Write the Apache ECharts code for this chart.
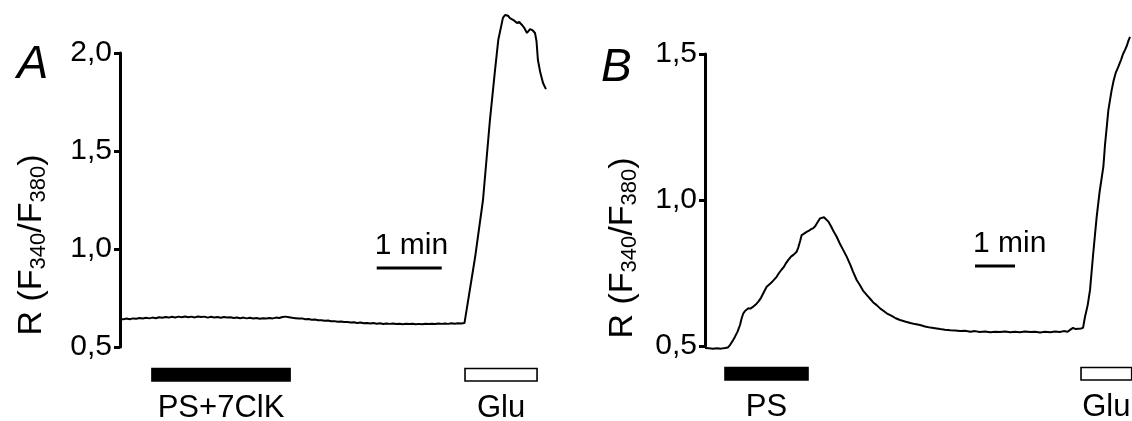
<!DOCTYPE html>
<html>
<head>
<meta charset="utf-8">
<script src="https://cdn.jsdelivr.net/npm/echarts@6/dist/echarts.min.js"></script>
<style>html,body{margin:0;padding:0;background:#fff}#c{width:1132px;height:421px}</style>
</head>
<body>
<div id="c"></div>
<script>
// ---- Panel A: time (s), ratio F340/F380 ----
const traceA = [
[0,0.643],[3,0.641],[6,0.645],[9,0.642],[12,0.646],[15,0.644],[18,0.648],[21,0.645],[24,0.649],[27,0.646],
[30,0.650],[33,0.647],[36,0.652],[39,0.649],[42,0.653],[45,0.650],[48,0.654],[51,0.651],[54,0.655],[57,0.652],
[60,0.656],[63,0.652],[66,0.655],[69,0.651],[72,0.656],[75,0.653],[78,0.655],[81,0.650],[84,0.654],[87,0.651],
[90,0.653],[93,0.649],[96,0.653],[99,0.650],[102,0.652],[105,0.648],[108,0.651],[111,0.647],[114,0.650],[117,0.646],
[120,0.649],[123,0.645],[126,0.648],[129,0.644],[132,0.647],[135,0.645],[138,0.648],[141,0.646],[144,0.650],[147,0.648],
[150,0.653],[153,0.655],[156,0.652],[159,0.649],[162,0.647],[165,0.645],[168,0.646],[171,0.642],[174,0.643],[177,0.639],
[180,0.640],[183,0.636],[186,0.637],[189,0.634],[192,0.635],[195,0.631],[198,0.632],[201,0.629],[204,0.630],[207,0.627],
[210,0.628],[213,0.625],[216,0.626],[219,0.623],[222,0.625],[225,0.621],[228,0.623],[231,0.620],[234,0.622],[237,0.619],
[240,0.621],[243,0.617],[246,0.620],[249,0.618],[252,0.620],[255,0.617],[258,0.619],[261,0.616],[264,0.619],[267,0.617],
[270,0.619],[273,0.616],[276,0.618],[279,0.616],[282,0.619],[285,0.617],[288,0.619],[291,0.617],[294,0.620],[297,0.618],
[300,0.620],[303,0.618],[306,0.621],[309,0.619],[312,0.621],[315,0.620],[318,0.622],
[319.4,0.628],[327.7,0.954],[335.1,1.25],[341.5,1.658],[346.2,1.913],[349.2,2.066],[353.5,2.179],[355.4,2.194],
[357,2.185],[358.2,2.19],[360,2.178],[361.8,2.184],[364,2.165],[366.5,2.153],[368.5,2.158],[371.1,2.143],[373,2.13],
[375.7,2.102],[378.5,2.122],[381,2.115],[383.1,2.102],[384.5,2.06],[385.8,1.964],[388,1.9],[390.5,1.847],[393.2,1.816]
];
// treatments: [start s, end s, filled (1) / open (0)]
const treatA = [[29.5, 157, 1], [318.5, 385, 0]];
const treatNamesA = ['PS+7ClK', 'Glu'];
const scaleA = [[237, 297, 0.903]];

// ---- Panel B ----
const traceB = [
[0,0.493],[6,0.492],[12,0.491],[18,0.492],[24,0.491],[30,0.493],[34.5,0.495],
[38,0.505],[42,0.52],[45,0.532],[49,0.55],[52.5,0.572],[55,0.595],[57.5,0.612],[60,0.62],[62,0.625],[65,0.629],
[68,0.628],[70,0.634],[72.5,0.635],[75,0.64],[77,0.644],[80,0.652],[84,0.665],[88,0.683],[92.5,0.703],[96,0.71],
[100,0.718],[104,0.728],[107.5,0.737],[111,0.75],[115,0.762],[118,0.77],[121,0.782],[125,0.795],[129,0.806],
[133,0.813],[137.5,0.823],[140,0.838],[143,0.862],[145,0.88],[148,0.884],[150,0.889],[152.5,0.891],[156,0.895],
[159,0.9],[162,0.903],[165,0.909],[167,0.915],[170,0.928],[172.5,0.937],[175,0.94],[178.5,0.941],[181,0.937],
[185,0.926],[189,0.91],[193,0.892],[197.5,0.874],[202,0.852],[207,0.83],[212.5,0.806],[218,0.778],[222,0.755],
[227.5,0.726],[232,0.71],[237,0.69],[242.5,0.675],[248,0.661],[252,0.65],[257.5,0.64],[263,0.628],[268,0.62],
[272.5,0.612],[280,0.603],[286,0.595],[292.5,0.589],[300,0.584],[308,0.579],[315,0.575],[322.5,0.572],[330,0.567],
[338,0.563],[345,0.561],[352.5,0.558],[360,0.556],[368,0.554],[375,0.553],[382.5,0.551],[390,0.552],[398,0.549],
[405,0.551],[412,0.548],[420,0.55],[428,0.547],[435,0.549],[442.5,0.548],[450,0.55],[458,0.547],[465,0.549],
[472,0.547],[480,0.55],[488,0.548],[495,0.549],[502.5,0.546],[510,0.549],[518,0.547],[525,0.55],[532,0.548],
[538,0.551],[544,0.549],[548,0.556],[552,0.562],[556,0.558],[560,0.559],[564,0.56],[567,0.562],
[570,0.6],[574,0.64],[577.5,0.692],[582,0.81],[587.5,0.943],[592,1.03],[597.5,1.114],[600,1.19],[603,1.26],
[605,1.308],[608,1.35],[610,1.377],[613,1.41],[616,1.435],[620,1.457],[624,1.48],[627,1.5],[630,1.514],
[633,1.53],[635,1.545],[637.5,1.559]
];
const treatB = [[30, 154.5, 1], [564, 640, 0]];
const treatNamesB = ['PS', 'Glu'];
const scaleB = [[405, 465, 0.774]];

const yTicksA = {min: 0.5, max: 2.0, interval: 0.5};
const yTicksB = {min: 0.5, max: 1.5, interval: 0.5};

const FONT = 'Liberation Sans';
const chart = echarts.init(document.getElementById('c'), null, {renderer: 'canvas'});

function treatRender(names, yMin) {
  return function (params, api) {
    const p0 = api.coord([api.value(0), yMin]);
    const p1 = api.coord([api.value(1), yMin]);
    const filled = api.value(2) === 1;
    const yb = p0[1];
    return {
      type: 'group',
      children: [
        {type: 'rect', shape: {x: p0[0], y: yb + 21.5, width: p1[0] - p0[0], height: 12.5},
         style: {fill: filled ? '#000' : '#fff', stroke: '#000', lineWidth: 1.6}},
        {type: 'text', style: {text: names[params.dataIndex], x: (p0[0] + p1[0]) / 2, y: yb + 61,
         align: 'center', verticalAlign: 'middle', fontSize: 31, fontFamily: FONT, fill: '#000'}}
      ]
    };
  };
}
function scaleRender(params, api) {
  const p0 = api.coord([api.value(0), api.value(2)]);
  const p1 = api.coord([api.value(1), api.value(2)]);
  return {
    type: 'group',
    children: [
      {type: 'line', shape: {x1: p0[0], y1: p0[1], x2: p1[0], y2: p1[1]}, style: {stroke: '#000', lineWidth: 2.8}},
      {type: 'text', style: {text: '1 min', x: p0[0] - 2, y: p0[1] - 22, align: 'left', verticalAlign: 'middle',
       fontSize: 30, fontFamily: FONT, fill: '#000'}}
    ]
  };
}

function yAxis(ticks, idx, gap, shift) {
  return {
    type: 'value', gridIndex: idx, min: ticks.min, max: ticks.max, interval: ticks.interval,
    axisLine: {show: true, lineStyle: {color: '#000', width: 3}},
    axisTick: {show: true, length: 6, lineStyle: {color: '#000', width: 3}},
    splitLine: {show: false},
    axisLabel: {margin: 8, fontSize: 30, fontFamily: FONT, color: '#000',
      formatter: v => v.toFixed(1).replace('.', ',')},
    name: '{m|R (F}{s|340}{m|/F}{s|380}{m|)}',
    nameLocation: 'middle', nameGap: gap, nameRotate: 90,
    nameTextStyle: {
      padding: [0, 2 * shift, 0, 0],
      rich: {
        m: {fontSize: 34, fontFamily: FONT, color: '#000', lineHeight: 36},
        s: {fontSize: 22, fontFamily: FONT, color: '#000', lineHeight: 14, verticalAlign: 'bottom'}
      }
    }
  };
}

const option = {
  animation: false,
  backgroundColor: '#fff',
  title: [
    {text: 'A', left: 12, top: 36, textStyle: {fontSize: 47, fontStyle: 'italic', fontWeight: 'normal', fontFamily: FONT, color: '#000'}},
    {text: 'B', left: 596, top: 40, textStyle: {fontSize: 46, fontStyle: 'italic', fontWeight: 'normal', fontFamily: FONT, color: '#000'}}
  ],
  grid: [
    {left: 120, top: 53, width: 433.3, height: 294, outerBoundsMode: 'none'},
    {left: 705, top: 54, width: 426.7, height: 292, outerBoundsMode: 'none'}
  ],
  xAxis: [
    {type: 'value', gridIndex: 0, min: 0, max: 400, show: false},
    {type: 'value', gridIndex: 1, min: 0, max: 640, show: false}
  ],
  yAxis: [yAxis(yTicksA, 0, 70, 45), yAxis(yTicksB, 1, 64, 48)],
  series: [
    {type: 'line', xAxisIndex: 0, yAxisIndex: 0, data: traceA, showSymbol: false, clip: false,
     lineStyle: {color: '#000', width: 2}},
    {type: 'line', xAxisIndex: 1, yAxisIndex: 1, data: traceB, showSymbol: false, clip: false,
     lineStyle: {color: '#000', width: 2}},
    {type: 'custom', xAxisIndex: 0, yAxisIndex: 0, data: treatA, renderItem: treatRender(treatNamesA, 0.5), clip: false,
     encode: {x: [0, 1], y: 2}},
    {type: 'custom', xAxisIndex: 1, yAxisIndex: 1, data: treatB, renderItem: treatRender(treatNamesB, 0.5), clip: false,
     encode: {x: [0, 1], y: 2}},
    {type: 'custom', xAxisIndex: 0, yAxisIndex: 0, data: scaleA, renderItem: scaleRender, clip: false,
     encode: {x: [0, 1], y: 2}},
    {type: 'custom', xAxisIndex: 1, yAxisIndex: 1, data: scaleB, renderItem: scaleRender, clip: false,
     encode: {x: [0, 1], y: 2}}
  ]
};
chart.setOption(option);
</script>
</body>
</html>
